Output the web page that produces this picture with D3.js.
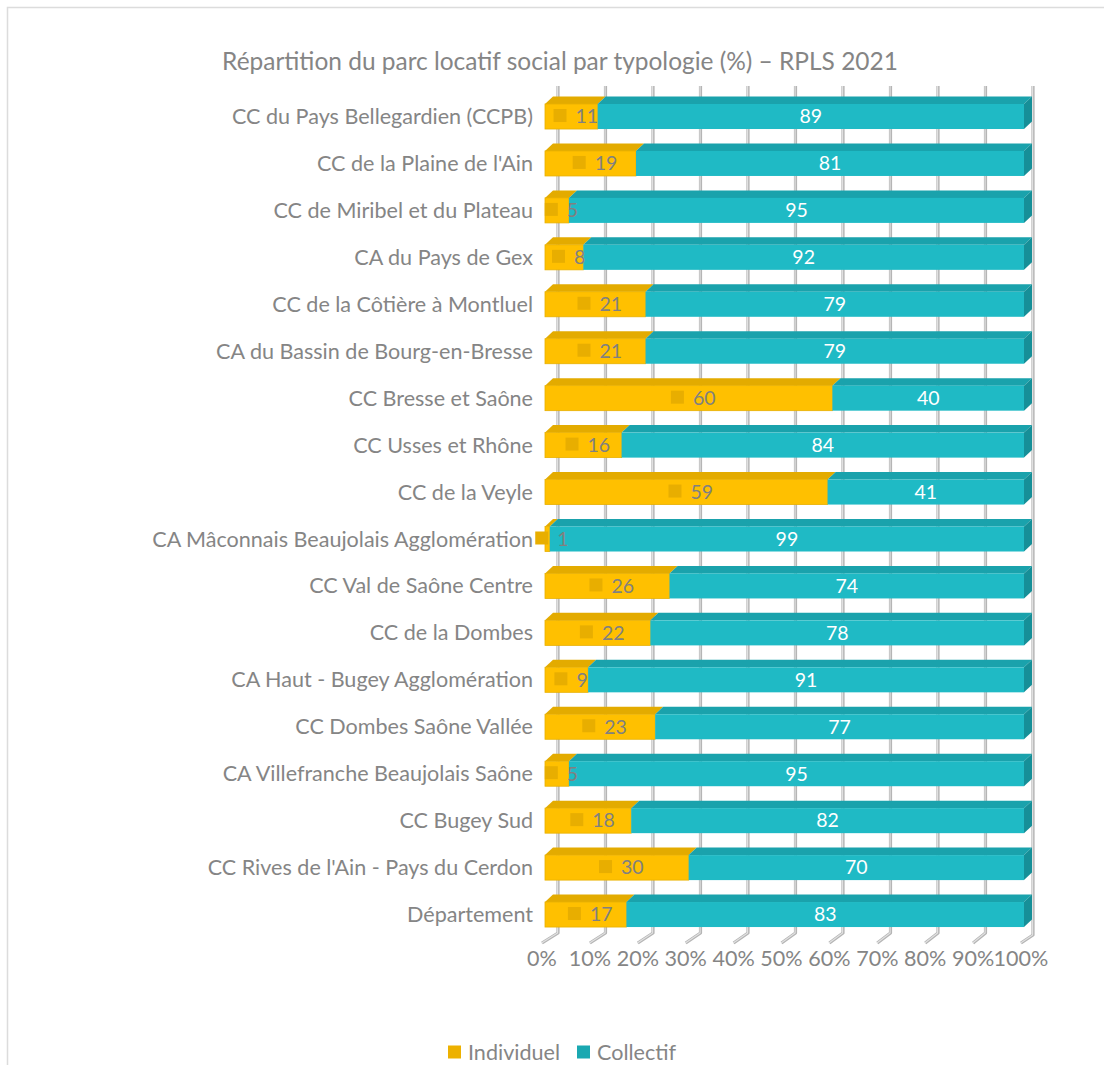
<!DOCTYPE html>
<html><head><meta charset="utf-8">
<script src="https://cdn.jsdelivr.net/npm/d3@7"></script>
<style>body{margin:0;background:#fff}svg{display:block}text{font-family:Lato,"Open Sans",sans-serif}</style>
</head><body><svg id="c" width="1104" height="1065"></svg>
<script>
const categories = ["CC du Pays Bellegardien (CCPB)","CC de la Plaine de l'Ain","CC de Miribel et du Plateau","CA du Pays de Gex","CC de la Côtière à Montluel","CA du Bassin de Bourg-en-Bresse","CC Bresse et Saône","CC Usses et Rhône","CC de la Veyle","CA Mâconnais Beaujolais Agglomération","CC Val de Saône Centre","CC de la Dombes","CA Haut - Bugey Agglomération","CC Dombes Saône Vallée","CA Villefranche Beaujolais Saône","CC Bugey Sud","CC Rives de l'Ain - Pays du Cerdon","Département"];
const individuel = [11,19,5,8,21,21,60,16,59,1,26,22,9,23,5,18,30,17];
const collectif  = [89,81,95,92,79,79,40,84,41,99,74,78,91,77,95,82,70,83];
const seriesNames = ["Individuel","Collectif"];
const tickValues = [0,10,20,30,40,50,60,70,80,90,100];
const title = "Répartition du parc locatif social par typologie (%) – RPLS 2021";

const svg = d3.select("#c");
const W=1104,H=1065;
svg.append("rect").attr("width",W).attr("height",H).attr("fill","#fff");
svg.append("path").attr("d","M7.5,1065V7.5H1104").attr("fill","none").attr("stroke","#dcdcdc").attr("stroke-width",1.5);

const gray="#858585";
// title
const t = svg.append("text").attr("x",560).attr("y",61).attr("text-anchor","middle").attr("dy","0.35em")
  .attr("fill",gray).attr("font-size",22).text(title);
const tw = t.node().getComputedTextLength(); t.attr("font-size",22*676/tw);

const xFront = d3.scaleLinear().domain([0,100]).range([545,1024]);
const xBack  = d3.scaleLinear().domain([0,100]).range([558,1033]);
const xFloor = d3.scaleLinear().domain([0,100]).range([542,1021]);
const y = d3.scaleBand().domain(categories).range([93.04,938]).paddingInner(0.467).paddingOuter(0.2335);
const bh = y.bandwidth();
const DX=8, DY=7.5;

// gridlines on back wall + floor
const grid = svg.append("g");
tickValues.forEach(v=>{
  const xb=xBack(v), xf=xFloor(v);
  const ybot = v===100?935:933;
  grid.append("path").attr("d",`M${xb},86V${ybot}L${xf},943`).attr("fill","none")
    .attr("stroke","#b5b5b5").attr("stroke-width",3.2).attr("stroke-linejoin","round");
  grid.append("path").attr("d",`M${xb-0.4},86V${ybot}L${xf-0.4},943`).attr("fill","none")
    .attr("stroke","#e2e2e2").attr("stroke-width",1.1);
});

// bars
const colors = {front:["#FFC000","#1FBAC5"], top:["#E3AB00","#1AA2AC"], side:["#D9A300","#168F98"]};
const stackData = categories.map((c,i)=>({cat:c, Individuel:individuel[i], Collectif:collectif[i]}));
const stacked = d3.stack().keys(seriesNames)(stackData);
const barsG = svg.append("g");
stacked.forEach((s,si)=>{
  s.forEach((d,i)=>{
    const x0=xFront(d[0]), x1=xFront(d[1]), yy=y(categories[i]);
    const g=barsG.append("g");
    g.append("path").attr("d",`M${x0},${yy}L${x0+DX},${yy-DY}L${x1+DX},${yy-DY}L${x1},${yy}Z`).attr("fill",colors.top[si]);
    if(si===1) g.append("path").attr("d",`M${x1},${yy}L${x1+DX},${yy-DY}L${x1+DX},${yy+bh-DY}L${x1},${yy+bh}Z`).attr("fill",colors.side[si]);
    g.append("rect").attr("x",x0).attr("y",yy).attr("width",x1-x0).attr("height",bh).attr("fill",colors.front[si])
      .attr("stroke",si===0?"#E8B000":"none").attr("stroke-width",0.8);
  });
});

// labels
const labG = svg.append("g");
const fs=19.5;
stacked[1].forEach((d,i)=>{
  const cy=y(categories[i])+bh/2;
  labG.append("text").attr("x",(xFront(d[0])+xFront(d[1]))/2).attr("y",cy).attr("dy","0.35em")
    .attr("text-anchor","middle").attr("fill","#fff").attr("font-size",fs).text(collectif[i]);
});
stacked[0].forEach((d,i)=>{
  const cy=y(categories[i])+bh/2;
  const cx=(xFront(d[0])+xFront(d[1]))/2+4.5;
  const tx=labG.append("text").attr("y",cy).attr("dy","0.35em").attr("fill","#808080").attr("font-size",fs).text(individuel[i]);
  const w=tx.node().getComputedTextLength();
  const total=13+9+w, left=cx-total/2;
  labG.append("rect").attr("x",left).attr("y",cy-7.5).attr("width",13).attr("height",13).attr("fill","#E8AE00");
  tx.attr("x",left+22);
});

// category labels
const catG = svg.append("g");
let catFs=19;
const probe = catG.append("text").attr("font-size",catFs).text(categories[9]);
catFs = catFs*381/probe.node().getComputedTextLength(); probe.remove();
categories.forEach((c,i)=>{
  catG.append("text").attr("x",533).attr("y",y(c)+bh/2).attr("dy","0.35em").attr("text-anchor","end")
    .attr("fill",gray).attr("font-size",catFs).text(c);
});

// x tick labels
const axG = svg.append("g");
tickValues.forEach(v=>{
  axG.append("text").attr("x",xFront(v)-3).attr("y",958).attr("dy","0.35em").attr("text-anchor","middle")
    .attr("fill",gray).attr("font-size",catFs).text(v+"%");
});

// legend
const legG = svg.append("g");
const legX=[448,577], legC=["#EDB100","#1AA8B1"];
seriesNames.forEach((n,i)=>{
  legG.append("rect").attr("x",legX[i]).attr("y",1045.5).attr("width",13).attr("height",13).attr("fill",legC[i]);
  legG.append("text").attr("x",legX[i]+20).attr("y",1052).attr("dy","0.35em").attr("fill",gray).attr("font-size",catFs).text(n);
});
</script></body></html>
